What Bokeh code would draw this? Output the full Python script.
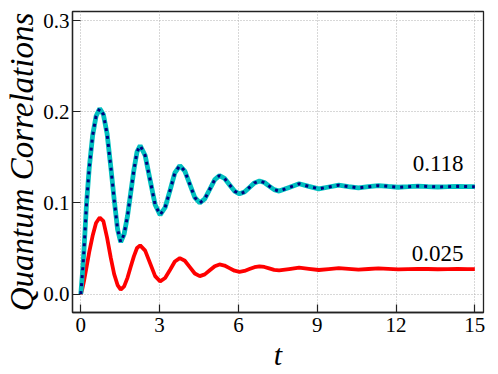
from bokeh.plotting import figure
from bokeh.models import FixedTicker, Label, Range1d
from bokeh.embed import file_html
from bokeh.resources import INLINE

# ---- data ----
t = [0.00, 0.06, 0.12, 0.22, 0.32, 0.45, 0.58, 0.72, 0.86, 1.00, 1.14, 1.27, 1.40, 1.52,
     1.65, 1.78, 1.90, 2.02, 2.14, 2.26, 2.45, 2.64, 2.83, 3.02, 3.21, 3.40, 3.58, 3.77,
     3.96, 4.15, 4.34, 4.53, 4.72, 4.91, 5.10, 5.28, 5.47, 5.66, 5.85, 6.04, 6.23, 6.42,
     6.61, 6.80, 6.99, 7.17, 7.36, 7.55, 7.93, 8.31, 8.68, 9.06, 9.44, 9.82, 10.19, 10.57,
     10.95, 11.33, 11.70, 12.08, 12.46, 12.84, 13.21, 13.59, 13.97, 14.35, 14.72, 15.00]

upper = [0.000, 0.022, 0.048, 0.100, 0.138, 0.174, 0.195, 0.2035, 0.197, 0.176, 0.140, 0.104, 0.071, 0.057,
         0.066, 0.086, 0.111, 0.136, 0.156, 0.163, 0.152, 0.125, 0.098, 0.087, 0.095, 0.114, 0.133, 0.141,
         0.135, 0.1205, 0.106, 0.100, 0.1044, 0.115, 0.1256, 0.130, 0.127, 0.120, 0.113, 0.110, 0.112, 0.117,
         0.122, 0.124, 0.1224, 0.1185, 0.1146, 0.113, 0.117, 0.121, 0.1182, 0.1155, 0.1175, 0.1195, 0.118, 0.1165,
         0.1178, 0.119, 0.1181, 0.1172, 0.1178, 0.1185, 0.118, 0.1175, 0.1178, 0.1182, 0.118, 0.1178]

lower = [0.000, 0.006, 0.014, 0.030, 0.046, 0.064, 0.078, 0.084, 0.080, 0.062, 0.040, 0.022, 0.010, 0.005,
         0.0086, 0.0182, 0.030, 0.0414, 0.0506, 0.0535, 0.0477, 0.0338, 0.0198, 0.014, 0.0177, 0.0268, 0.0358, 0.0395,
         0.0366, 0.0297, 0.0227, 0.0198, 0.0217, 0.0262, 0.0307, 0.0326, 0.0314, 0.0286, 0.0257, 0.0245, 0.0254, 0.0275,
         0.0296, 0.0305, 0.0298, 0.0283, 0.0267, 0.026, 0.0275, 0.029, 0.0278, 0.0265, 0.0275, 0.0285, 0.0278, 0.027,
         0.0276, 0.0282, 0.0277, 0.0272, 0.0275, 0.0278, 0.0276, 0.0273, 0.0275, 0.0277, 0.0275, 0.0275]

x_ticks = [0, 3, 6, 9, 12, 15]
x_tick_labels = ["0", "3", "6", "9", "12", "15"]
y_ticks = [0.0, 0.1, 0.2, 0.3]
y_tick_labels = ["0.0", "0.1", "0.2", "0.3"]
annot_texts = ["0.118", "0.025"]
annot_x = [14.57, 14.57]
annot_y = [0.1438, 0.0443]
x_title = "t"
y_title = "Quantum Correlations"

SERIF = "'Liberation Serif', serif"

p = figure(width=498, height=374, output_backend="svg", toolbar_location=None,
           x_range=Range1d(-0.316, 15.33), y_range=Range1d(-0.0201, 0.3099),
           min_border_left=72, min_border_right=15, min_border_top=11, min_border_bottom=62)
p.background_fill_color = "white"
p.border_fill_color = "white"
p.outline_line_color = "#222222"
p.outline_line_width = 1.3

for ax in (p.xaxis[0], p.yaxis[0]):
    ax.axis_line_color = "#222222"
    ax.axis_line_width = 1.3
    ax.major_tick_in = 8
    ax.major_tick_out = 0
    ax.major_tick_line_color = "#222222"
    ax.major_tick_line_width = 1.2
    ax.minor_tick_line_color = None
    ax.major_label_text_font = SERIF
    ax.major_label_text_font_size = "21px"
    ax.major_label_text_color = "black"
    ax.axis_label_text_font = SERIF
    ax.axis_label_text_font_style = "italic"
    ax.axis_label_text_color = "black"

p.xaxis.ticker = FixedTicker(ticks=x_ticks)
p.xaxis.major_label_overrides = dict(zip(x_ticks, x_tick_labels))
p.xaxis.major_label_standoff = 5
p.xaxis.axis_label = x_title
p.xaxis.axis_label_text_font_size = "30px"
p.xaxis.axis_label_standoff = 3

p.yaxis.ticker = FixedTicker(ticks=y_ticks)
p.yaxis.major_label_overrides = dict(zip(y_ticks, y_tick_labels))
p.yaxis.major_label_standoff = 3
p.yaxis.axis_label = y_title
p.yaxis.axis_label_text_font_size = "33px"
p.yaxis.axis_label_standoff = 0

for g in (p.xgrid[0], p.ygrid[0]):
    g.grid_line_color = "#b0b0b0"
    g.grid_line_dash = "1 2"
    g.grid_line_width = 1

p.line(t, lower, line_color="#ff0000", line_width=3.8)
p.line(t, upper, line_color="#00bfbf", line_width=4.8)
p.line(t, upper, line_color="#000080", line_width=3.0, line_dash="3 5", line_cap="butt")

for txt, ax_, ay_ in zip(annot_texts, annot_x, annot_y):
    p.add_layout(Label(x=ax_, y=ay_, text=txt, text_align="right", text_baseline="alphabetic",
                       text_font=SERIF, text_font_size="23px", text_color="black"))

open("out.html", "w").write(file_html(p, INLINE))
